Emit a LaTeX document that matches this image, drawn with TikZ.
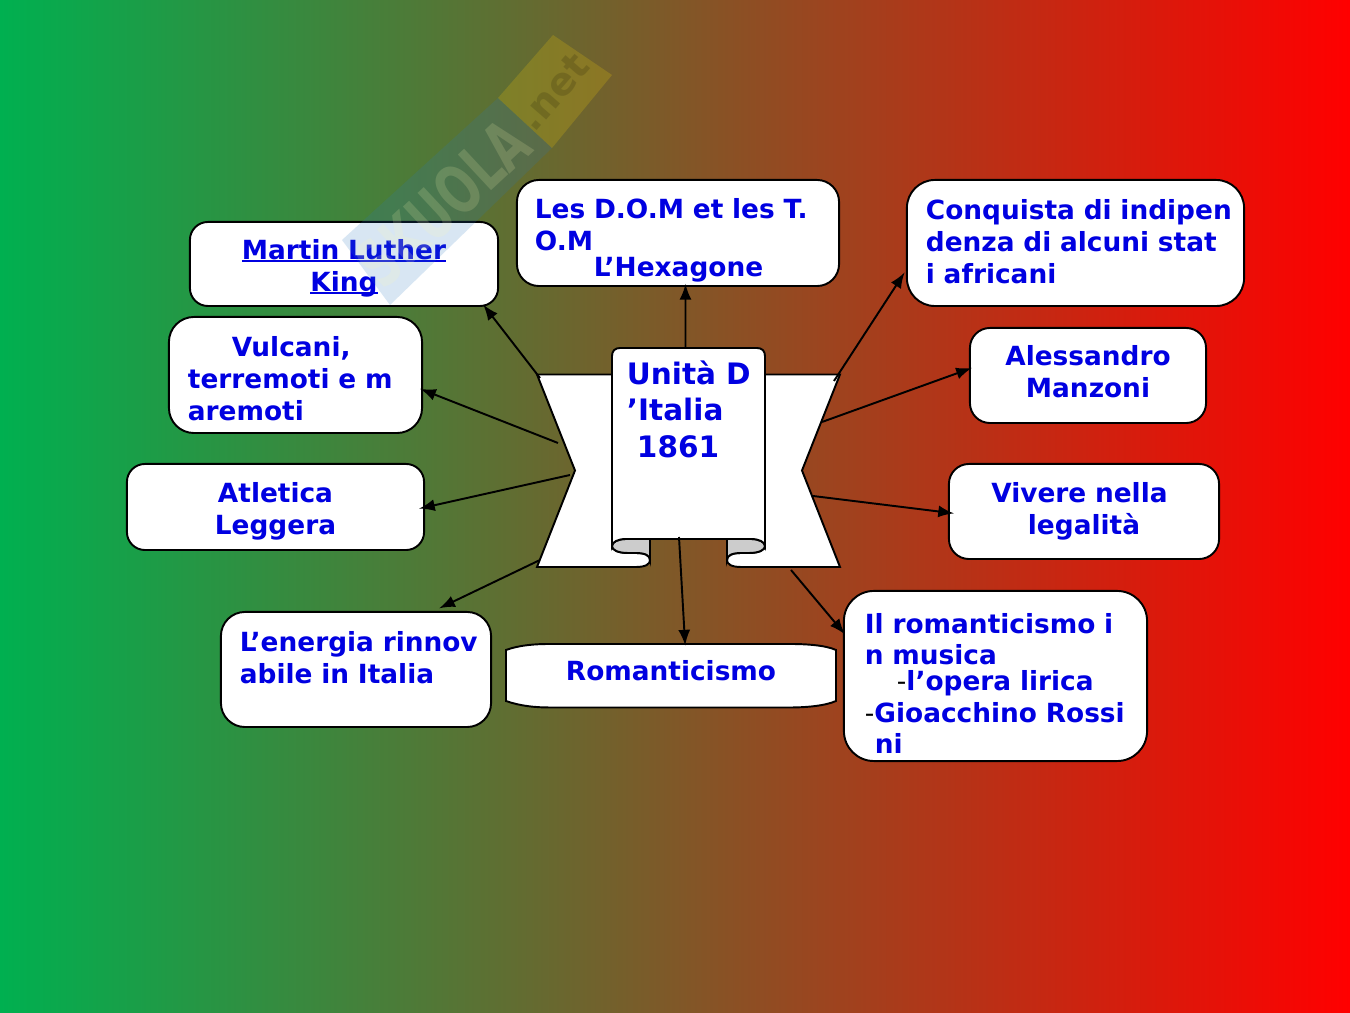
\documentclass[tikz,border=0pt]{standalone}
\usepackage{fontspec}
\setmainfont{DejaVu Sans}
\definecolor{bgleft}{RGB}{0,176,80}
\definecolor{bgright}{RGB}{255,0,0}
\definecolor{boxtext}{RGB}{0,0,225}
\definecolor{foldgrey}{RGB}{204,204,204}
\definecolor{logoblue}{RGB}{40,120,190}
\definecolor{logoyellow}{RGB}{200,170,20}
\newcommand{\hgt}[1]{\rule{0pt}{#1cm}}
\newcommand{\dpt}[1]{\rule[-#1cm]{0pt}{#1cm}}
\newcommand{\pad}[1]{\hspace*{#1cm}}
\newcommand{\ubar}[1]{\leavevmode\setbox0=\hbox{#1}\rlap{\rule[-.025cm]{\wd0}{.02cm}}\box0}
\tikzset{
  box/.style={draw,fill=white,line width=.55pt,rounded corners=.2cm,inner sep=0pt,
    align=left,text=boxtext,font=\fontsize{7.5}{9.1}\selectfont\bfseries},
  arr/.style={-latex,line width=.55pt,shorten >=-.03cm}
}
\begin{document}
\begin{tikzpicture}[x=.01cm,y=-.01cm]
  \useasboundingbox (0,0) rectangle (1350,1013);
  \shade[left color=bgleft,right color=bgright] (0,0) rectangle (1350,1013);
  % scroll
  \begin{scope}[line width=.55pt]
    \draw[fill=white] (537,374.5)--(612,374.5)--(612,546)
      .. controls (612,550) and (618,553) .. (628,553)--(636,553)
      .. controls (646,553) and (650,556) .. (650,560)
      .. controls (650,564) and (646,567) .. (636,567)--(537,567)--(575,470.5)--cycle;
    \draw[fill=white] (840,374.5)--(765,374.5)--(765,546)
      .. controls (765,550) and (759,553) .. (749,553)--(741,553)
      .. controls (731,553) and (727,556) .. (727,560)
      .. controls (727,564) and (731,567) .. (741,567)--(840,567)--(802,470.5)--cycle;
    \draw[fill=foldgrey] (612,546) .. controls (612,550) and (618,553) .. (628,553)
      --(636,553) .. controls (646,553) and (650,556) .. (650,560)--(650,539)--(626,539)
      .. controls (618,539) and (612,542) .. (612,546);
    \draw[fill=foldgrey] (765,546) .. controls (765,550) and (759,553) .. (749,553)
      --(741,553) .. controls (731,553) and (727,556) .. (727,560)--(727,539)--(751,539)
      .. controls (759,539) and (765,542) .. (765,546);
    \draw[fill=white] (612,546)--(612,356) .. controls (612,351) and (615,348) .. (620,348)
      --(757,348) .. controls (762,348) and (765,351) .. (765,356)--(765,546)
      .. controls (765,542) and (759,539) .. (751,539)--(626,539)
      .. controls (618,539) and (612,542) .. (612,546)--cycle;
  \end{scope}
  \node[box,draw=none,fill=none,text width=1.53cm,minimum height=1.92cm,
    font=\fontsize{8.4}{10.25}\selectfont\bfseries] (titlebox) at (688.5,444)
    {\pad{.15}\hgt{.29}Unità D\\\pad{.15}’Italia\\\pad{.25}1861\dpt{.75}};
  % boxes
  \node[box,align=center,text width=3.08cm,minimum height=.84cm,rounded corners=.18cm] (kingbox) at (344,264)
    {\hgt{.31}\ubar{Martin Luther}\\\ubar{King}\dpt{.08}};
  \node[box,text width=3.22cm,minimum height=1.06cm,rounded corners=.22cm] (dombox) at (678,233)
    {\pad{.18}\hgt{.38}Les D.O.M et les T.\\\pad{.18}O.M\\[-.06cm]\pad{.77}L’Hexagone\dpt{.08}};
  \node[box,text width=3.37cm,minimum height=1.26cm,rounded corners=.28cm] (africabox) at (1075.5,243)
    {\pad{.19}\hgt{.26}Conquista di indipen\\\pad{.19}denza di alcuni stat\\\pad{.19}i africani\dpt{.08}};
  \node[box,align=center,text width=2.36cm,minimum height=.95cm] (manzonibox) at (1088,375.5)
    {\hgt{.25}Alessandro\\Manzoni\dpt{.12}};
  \node[box,align=center,text width=2.7cm,minimum height=.95cm] (legalbox) at (1084,511.5)
    {\hgt{.27}Vivere nella\pad{.09}\mbox{}\\legalità\dpt{.12}};
  \node[box,text width=3.03cm,minimum height=1.7cm,rounded corners=.3cm] (musicbox) at (995.5,676)
    {\pad{.21}\hgt{.42}Il romanticismo i\\[-.01cm]\pad{.21}n musica\\[-.06cm]\pad{.53}{\mdseries\color{black}-}l’opera lirica\\
     \pad{.21}{\mdseries\color{black}-}Gioacchino Rossi\\[-.01cm]\pad{.31}ni\dpt{.07}};
  \draw[fill=white,line width=.55pt] (506,650) .. controls (520,645) and (535,644) .. (550,644)--(790,644)
    .. controls (805,644) and (825,645) .. (836,650)--(836,701)
    .. controls (825,706) and (805,707.5) .. (790,707.5)--(550,707.5)
    .. controls (535,707.5) and (520,706) .. (506,701)--cycle;
  \node[box,draw=none,fill=none,align=center,text width=3.3cm,minimum height=.64cm] (romabox) at (671,675.5)
    {\hgt{.25}Romanticismo\dpt{.15}};
  \node[box,text width=2.7cm,minimum height=1.15cm,rounded corners=.24cm] (energybox) at (356,669.5)
    {\pad{.19}\hgt{.25}L’energia rinnov\\\pad{.19}abile in Italia\dpt{.28}};
  \node[box,align=center,text width=2.97cm,minimum height=.86cm,rounded corners=.18cm] (sportbox) at (275.5,507)
    {\hgt{.32}Atletica\\Leggera\dpt{.08}};
  \node[box,text width=2.53cm,minimum height=1.16cm,rounded corners=.25cm] (vulcanbox) at (295.5,375)
    {\pad{.63}\hgt{.35}Vulcani,\\\pad{.19}terremoti e m\\\pad{.19}aremoti\dpt{.08}};
  % arrow ends
  \foreach \n/\x/\y in{king/540/378, vulcan/558/443, sport/570/475,
    energy/540/560, roma/679/537, music/791/570,
    legal/813/496, manzoni/822/422, africa/834/381, dom/685.5/348}{%
    \coordinate (\n tail) at (\x,\y);
  }
  \coordinate (kinghead) at ([xshift=-.14cm]kingbox.south east);
  \coordinate (vulcanhead) at ([yshift=-.15cm]vulcanbox.east);
  \coordinate (sporthead) at ([xshift=-.03cm,yshift=-.01cm]sportbox.east);
  \coordinate (energyhead) at (442,607);
  \coordinate (romahead) at ([xshift=.14cm]romabox.north);
  \coordinate (musichead) at ([yshift=.44cm]musicbox.west);
  \coordinate (legalhead) at ([xshift=.03cm,yshift=-.015cm]legalbox.west);
  \coordinate (manzonihead) at ([yshift=.065cm]manzonibox.west);
  \coordinate (africahead) at ([xshift=-.03cm,yshift=-.32cm]africabox.west);
  \coordinate (domhead) at ([xshift=.075cm]dombox.south);
  \foreach \n in{king,vulcan,sport,energy,roma,music,legal,manzoni,africa,dom}{%
    \draw[arr] (\n tail)--(\n head);
  }
  % watermark
  \fill[logoblue,opacity=.18] (342,240)--(498,98)--(552,148)--(390,305)--cycle;
  \fill[logoyellow,opacity=.3] (498,98)--(553,35)--(612,75)--(552,148)--cycle;
  \node[rotate=43,xscale=.68,text=yellow!30!white,text opacity=.16,inner sep=0pt,
    font=\fontsize{19}{22}\selectfont\bfseries] (logotext) at (443,203) {SKUOLA};
  \node[rotate=49,text=black,text opacity=.14,inner sep=0pt,
    font=\fontsize{11}{13}\selectfont\bfseries] (nettext) at (553,92) {.net};
\end{tikzpicture}
\end{document}
